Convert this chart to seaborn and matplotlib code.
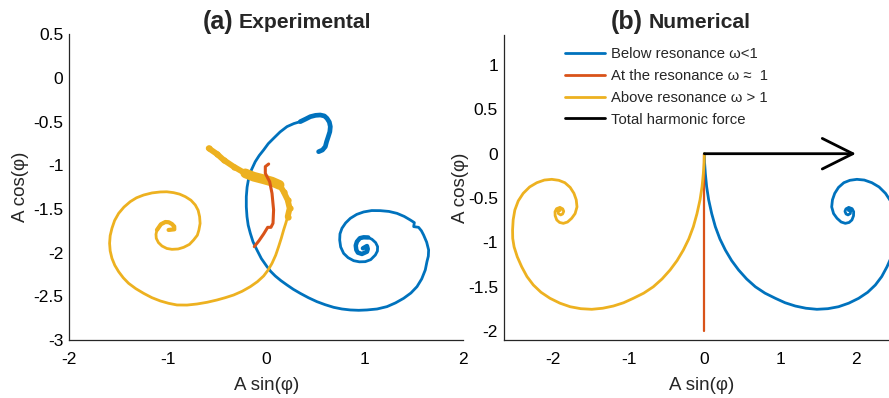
import matplotlib
matplotlib.use("Agg")
import matplotlib.pyplot as plt
from matplotlib.lines import Line2D
import seaborn as sns

# ---------------- (a) measured trajectories ----------------
exp_below_x = [0.981, 1.022, 1.030, 1.022, 0.971, 0.930, 0.914, 0.908, 0.920, 0.950,
               0.988, 1.035, 1.073, 1.110, 1.130, 1.128, 1.107, 1.060, 1.005, 0.945,
               0.887, 0.830, 0.785, 0.755, 0.745, 0.748, 0.768, 0.805, 0.853, 0.918,
               0.988, 1.070, 1.157, 1.245, 1.327, 1.400, 1.462, 1.503, 1.496, 1.546,
               1.575, 1.597, 1.628, 1.648, 1.645, 1.631, 1.614, 1.578, 1.530, 1.468,
               1.394, 1.312, 1.225, 1.125, 1.022, 0.938, 0.853, 0.768, 0.684, 0.598,
               0.514, 0.428, 0.345, 0.275, 0.210, 0.148, 0.091, 0.045, 0.007, -0.050,
               -0.095, -0.135, -0.162, -0.184, -0.196, -0.203, -0.203, -0.195, -0.179, -0.150,
               -0.112, -0.072, -0.027, 0.020, 0.074, 0.140, 0.210, 0.280, 0.345, 0.400,
               0.447, 0.500, 0.548, 0.590, 0.616, 0.640, 0.650, 0.645, 0.629, 0.612,
               0.599, 0.570, 0.531]
exp_below_y = [-1.950, -1.924, -1.958, -1.989, -2.015, -2.000, -1.969, -1.918, -1.874, -1.834,
               -1.824, -1.826, -1.847, -1.885, -1.931, -1.982, -2.027, -2.080, -2.103, -2.105,
               -2.092, -2.057, -2.008, -1.935, -1.855, -1.785, -1.721, -1.660, -1.607, -1.562,
               -1.534, -1.518, -1.519, -1.528, -1.550, -1.585, -1.626, -1.656, -1.702, -1.710,
               -1.750, -1.798, -1.880, -1.969, -2.040, -2.103, -2.198, -2.300, -2.389, -2.462,
               -2.523, -2.575, -2.618, -2.645, -2.656, -2.660, -2.656, -2.645, -2.626, -2.596,
               -2.561, -2.516, -2.466, -2.420, -2.370, -2.320, -2.267, -2.215, -2.160, -2.068,
               -1.969, -1.875, -1.779, -1.685, -1.588, -1.475, -1.359, -1.250, -1.149, -1.050,
               -0.958, -0.888, -0.824, -0.752, -0.691, -0.618, -0.557, -0.522, -0.500, -0.470,
               -0.443, -0.428, -0.424, -0.435, -0.462, -0.505, -0.557, -0.615, -0.672, -0.730,
               -0.786, -0.825, -0.844]

exp_res_x = [0.024, -0.010, -0.010, 0.034, 0.058, 0.074, 0.068, 0.047, 0.014, -0.027, -0.074, -0.122]
exp_res_y = [-0.985, -1.015, -1.092, -1.187, -1.321, -1.511, -1.664, -1.710, -1.710, -1.786, -1.863, -1.931]

exp_above_x = [-0.992, -0.934, -0.935, -0.958, -0.990, -1.025, -1.070, -1.110, -1.120, -1.117,
               -1.095, -1.059, -1.010, -0.958, -0.895, -0.839, -0.780, -0.738, -0.700, -0.684,
               -0.672, -0.677, -0.692, -0.721, -0.765, -0.822, -0.880, -0.941, -1.010, -1.076,
               -1.160, -1.245, -1.318, -1.381, -1.445, -1.499, -1.540, -1.567, -1.585, -1.591,
               -1.585, -1.567, -1.538, -1.499, -1.452, -1.398, -1.325, -1.245, -1.162, -1.076,
               -0.992, -0.907, -0.805, -0.704, -0.600, -0.501, -0.415, -0.332, -0.245, -0.162,
               -0.090, -0.027, 0.018, 0.058, 0.095, 0.125, 0.152, 0.176, 0.198, 0.217,
               0.237, 0.217, 0.176, 0.135, 0.058, -0.027, -0.129, -0.213, -0.332, -0.433,
               -0.501, -0.585]
exp_above_y = [-1.740, -1.733, -1.700, -1.672, -1.652, -1.649, -1.675, -1.740, -1.790, -1.836,
               -1.885, -1.924, -1.952, -1.962, -1.958, -1.939, -1.905, -1.855, -1.800, -1.740,
               -1.665, -1.588, -1.515, -1.454, -1.400, -1.359, -1.330, -1.313, -1.303, -1.305,
               -1.316, -1.340, -1.372, -1.416, -1.478, -1.550, -1.632, -1.721, -1.805, -1.893,
               -1.980, -2.065, -2.145, -2.218, -2.288, -2.351, -2.412, -2.466, -2.515, -2.553,
               -2.580, -2.599, -2.600, -2.588, -2.568, -2.542, -2.515, -2.485, -2.442, -2.389,
               -2.332, -2.267, -2.200, -2.122, -2.030, -1.931, -1.835, -1.740, -1.662, -1.588,
               -1.492, -1.397, -1.302, -1.225, -1.187, -1.160, -1.130, -1.092, -1.015, -0.939,
               -0.870, -0.805]

# ---------------- (b) simulated trajectories ----------------
num_above_x = [0.000, -0.003, -0.013, -0.030, -0.057, -0.097, -0.145, -0.205, -0.277, -0.360,
               -0.452, -0.558, -0.673, -0.800, -0.937, -1.065, -1.200, -1.340, -1.485, -1.630,
               -1.770, -1.905, -2.036, -2.155, -2.256, -2.340, -2.410, -2.468, -2.510, -2.528,
               -2.530, -2.522, -2.500, -2.455, -2.390, -2.305, -2.210, -2.110, -2.013, -1.920,
               -1.840, -1.770, -1.720, -1.690, -1.680, -1.705, -1.750, -1.805, -1.860, -1.910,
               -1.947, -1.968, -1.970, -1.950, -1.905, -1.868, -1.855, -1.870, -1.895, -1.925,
               -1.930, -1.915, -1.900]
num_above_y = [0.000, -0.100, -0.221, -0.370, -0.520, -0.675, -0.823, -0.960, -1.086, -1.205,
               -1.311, -1.412, -1.500, -1.572, -1.630, -1.680, -1.717, -1.742, -1.754, -1.747,
               -1.725, -1.685, -1.630, -1.562, -1.480, -1.385, -1.274, -1.162, -1.050, -0.955,
               -0.860, -0.745, -0.635, -0.532, -0.447, -0.375, -0.327, -0.297, -0.289, -0.300,
               -0.327, -0.380, -0.447, -0.520, -0.600, -0.675, -0.728, -0.770, -0.785, -0.775,
               -0.747, -0.700, -0.654, -0.620, -0.605, -0.622, -0.650, -0.680, -0.690, -0.675,
               -0.650, -0.635, -0.640]

num_below_x = [0.000, 0.003, 0.013, 0.030, 0.057, 0.097, 0.145, 0.205, 0.277, 0.360,
               0.452, 0.558, 0.673, 0.800, 0.937, 1.065, 1.200, 1.340, 1.485, 1.630,
               1.770, 1.905, 2.036, 2.155, 2.256, 2.340, 2.410, 2.468, 2.510, 2.528,
               2.530, 2.522, 2.500, 2.455, 2.390, 2.305, 2.210, 2.110, 2.013, 1.920,
               1.840, 1.770, 1.720, 1.690, 1.680, 1.705, 1.750, 1.805, 1.860, 1.910,
               1.947, 1.968, 1.970, 1.950, 1.905, 1.868, 1.855, 1.870, 1.895, 1.925,
               1.930, 1.915, 1.900]
num_below_y = list(num_above_y)

num_res_x = [0.0, 0.0]
num_res_y = [0.0, -2.0]

force_x = [0.0, 2.0]
force_y = [0.0, 0.0]

legend_labels = ["Below resonance \u03c9<1", "At the resonance \u03c9 \u2248  1",
                 "Above resonance \u03c9 > 1", "Total harmonic force"]

a_xticks = [-2, -1, 0, 1, 2]
a_xticklabels = ["-2", "-1", "0", "1", "2"]
a_yticks = [0.5, 0, -0.5, -1, -1.5, -2, -2.5, -3]
a_yticklabels = ["0.5", "0", "-0.5", "-1", "-1.5", "-2", "-2.5", "-3"]
b_xticks = [-2, -1, 0, 1, 2]
b_xticklabels = ["-2", "-1", "0", "1", "2"]
b_yticks = [1, 0.5, 0, -0.5, -1, -1.5, -2]
b_yticklabels = ["1", "0.5", "0", "-0.5", "-1", "-1.5", "-2"]

BLUE = "#0072BD"
RED = "#D95319"
YELLOW = "#EDB120"
AXC = "#262626"

sns.set_theme(style="white")
plt.rcParams["font.family"] = ["Liberation Sans", "DejaVu Sans"]
plt.rcParams["axes.unicode_minus"] = False

W, H = 889, 398
fig = plt.figure(figsize=(W / 100, H / 100), dpi=100)
ax1 = fig.add_axes([69.3 / W, 1 - 340 / H, (463.3 - 69.3) / W, (340 - 34.3) / H])
ax2 = fig.add_axes([504 / W, 1 - 340 / H, 395 / W, (340 - 35) / H])


def trace(ax, x, y, color, lw, **kw):
    sns.lineplot(x=x, y=y, ax=ax, sort=False, estimator=None, color=color,
                 linewidth=lw, solid_capstyle="round", solid_joinstyle="round",
                 legend=False, **kw)


# panel (a): noisy measured paths, heavier where the samples pile up
trace(ax1, exp_below_x, exp_below_y, BLUE, 2.0)
trace(ax1, exp_below_x[88:], exp_below_y[88:], BLUE, 3.4)
trace(ax1, exp_below_x[:12], exp_below_y[:12], BLUE, 3.2)
trace(ax1, exp_above_x, exp_above_y, YELLOW, 2.0)
trace(ax1, exp_above_x[:8], exp_above_y[:8], YELLOW, 3.0)
trace(ax1, exp_above_x[69:], exp_above_y[69:], YELLOW, 4.2, marker="o", markersize=4.5,
      markeredgewidth=0)
trace(ax1, exp_above_x[73:78], exp_above_y[73:78], YELLOW, 7.0)
trace(ax1, exp_res_x, exp_res_y, RED, 2.2)

ax1.set_xlim(-2, 2)
ax1.set_ylim(-3, 0.5)
ax1.set_xticks(a_xticks, a_xticklabels)
ax1.set_yticks(a_yticks, a_yticklabels)

# panel (b): simulated paths and the driving force vector
trace(ax2, num_below_x, num_below_y, BLUE, 2.0)
trace(ax2, num_res_x, num_res_y, RED, 1.6)
trace(ax2, num_above_x, num_above_y, YELLOW, 2.0)
ax2.annotate("", xy=(force_x[1], force_y[1]), xytext=(force_x[0], force_y[0]),
             arrowprops=dict(arrowstyle="->,head_length=2.2,head_width=1.1",
                             color="black", lw=2.0, shrinkA=0, shrinkB=0,
                             mutation_scale=10))

ax2.set_xlim(-2.643, 2.568)
ax2.set_ylim(-2.10, 1.338)
ax2.set_xticks(b_xticks, b_xticklabels)
ax2.set_yticks(b_yticks, b_yticklabels)

handles = [Line2D([], [], color=c, lw=2) for c in (BLUE, RED, YELLOW, "black")]
ax2.legend(handles, legend_labels, loc="upper left", frameon=False,
           bbox_to_anchor=(565 / W, 1 - 47 / H), bbox_transform=fig.transFigure,
           borderpad=0, borderaxespad=0, handlelength=2.7, handletextpad=0.4,
           labelspacing=0.53, fontsize=10.7)

for ax in (ax1, ax2):
    for side in ("top", "right"):
        ax.spines[side].set_visible(False)
    for side in ("left", "bottom"):
        ax.spines[side].set_color(AXC)
        ax.spines[side].set_linewidth(0.9)
    ax.tick_params(direction="in", length=3.5, width=0.8, color=AXC,
                   labelsize=12.5, labelcolor="black")
    ax.tick_params(axis="x", pad=8.5)
    ax.tick_params(axis="y", pad=4.3)
    ax.set_xlabel("A sin(\u03c6)", fontsize=13.5, labelpad=7)
ax1.set_ylabel("A cos(\u03c6)", fontsize=13.5, labelpad=3)
ax2.set_ylabel("A cos(\u03c6)", fontsize=13.5, labelpad=-1)

# panel titles
fig.text(233 / W, 1 - 22 / H, "(a)", ha="right", va="center", fontsize=18, fontweight="bold")
fig.text(239 / W, 1 - 22 / H, "Experimental", ha="left", va="center", fontsize=15.2, fontweight="bold")
fig.text(643 / W, 1 - 22 / H, "(b)", ha="right", va="center", fontsize=18, fontweight="bold")
fig.text(649 / W, 1 - 22 / H, "Numerical", ha="left", va="center", fontsize=15.2, fontweight="bold")

fig.savefig("out.png", dpi=100, facecolor="white")
